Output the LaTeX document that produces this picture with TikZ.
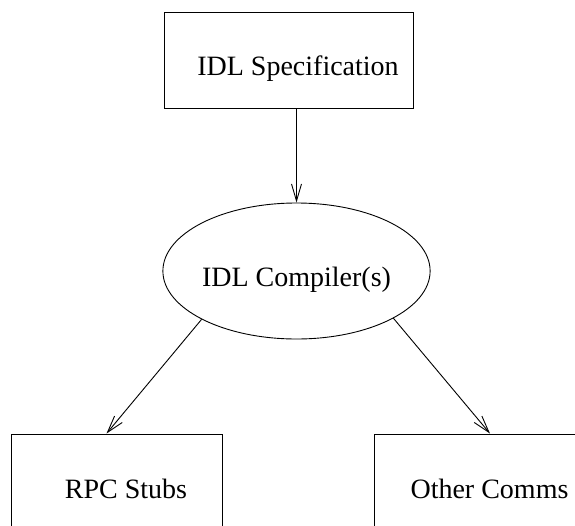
\documentclass[tikz,border=0pt]{standalone}
\usepackage{fontspec}
\setmainfont{Liberation Serif}
\usetikzlibrary{shapes.geometric,arrows.meta}
\tikzset{
  boxnode/.style={draw,rectangle,inner sep=0pt,minimum width=#1,execute at begin node=\hspace*{19pt}},
  compnode/.style={draw,ellipse,inner sep=0pt,minimum width=267pt,minimum height=136pt}
}
\begin{document}
\begin{tikzpicture}[>={Straight Barb[length=17pt,width=10pt]},x=1pt,y=-1pt,line width=0.9pt,font=\fontsize{28}{30}\selectfont]
        \useasboundingbox(0,0)rectangle(575,525);
        \node[boxnode=249pt,text height=63pt,text depth=33pt](spec) at(288.5,60) {IDL Specification};
        \node[compnode,text height=30pt,text depth=0pt](comp) at(296.5,271) {IDL Compiler(s)};
        \node[boxnode=211pt,text height=64pt,text depth=40pt](rpc) at(116.5,486) {RPC Stubs};
        \node[boxnode=211pt,text height=64pt,text depth=40pt](other) at(480,486) {Other Comms};
        \draw[->](comp.north |- spec.south)--(comp.north);
        \draw[->](comp.207)--([xshift=-10pt]rpc.north);
        \draw[->](comp.334)--([xshift=10pt]other.north);
    \end{tikzpicture}
\end{document}
